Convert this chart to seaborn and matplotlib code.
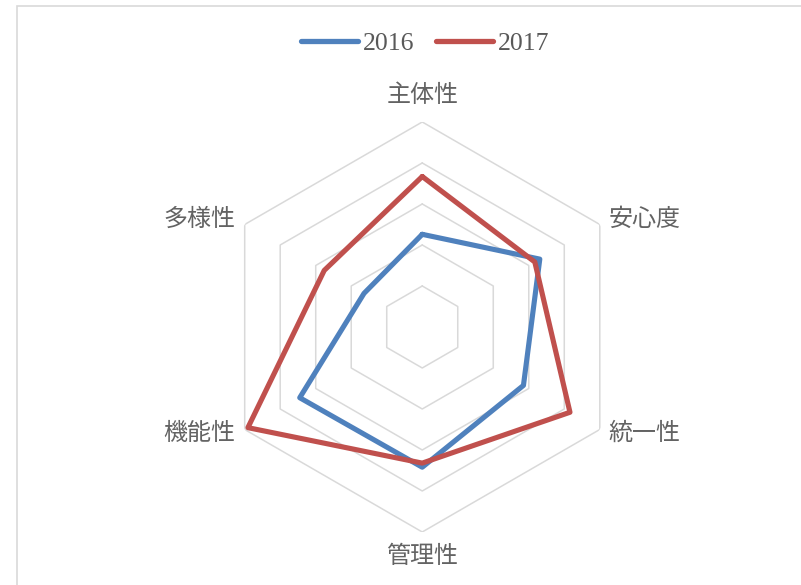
import numpy as np
import pandas as pd
import matplotlib
matplotlib.use("Agg")
from matplotlib import pyplot as plt
from matplotlib.lines import Line2D
from matplotlib.patches import Rectangle
import seaborn as sns

# data
categories = ['主体性', '安心度', '統一性', '管理性', '機能性', '多様性']
years = ['2016', '2017']
values2016 = [2.26, 3.31, 2.85, 3.42, 3.45, 1.64]
values2017 = [3.67, 3.17, 4.16, 3.32, 4.91, 2.76]
ring_levels = [1, 2, 3, 4, 5]
colors = ['#4F81BD', '#C0504D']

sns.set_style("white")
plt.rcParams['font.family'] = ['Noto Sans CJK JP', 'DejaVu Sans']

n = len(categories)
angles = list(np.linspace(0, 2 * np.pi, n, endpoint=False))

# long table, each polygon closed by repeating its first point at 2*pi
rows = []
for year, vals in zip(years, [values2016, values2017]):
    for a, v in zip(angles + [2 * np.pi], vals + [vals[0]]):
        rows.append({'theta': a, 'value': v, 'year': year})
df = pd.DataFrame(rows)

fig = plt.figure(figsize=(8.01, 5.85), dpi=100)
ax = fig.add_axes([0.2712, 0.0906, 0.5119, 0.7009], projection='polar')
ax.set_theta_offset(np.pi / 2)
ax.set_theta_direction(-1)

# hexagonal grid rings
for lev in ring_levels:
    ax.plot(angles + [angles[0]], [lev] * (n + 1), color='#D9D9D9', lw=1.1, zorder=0)

sns.lineplot(data=df, x='theta', y='value', hue='year', palette=colors,
             sort=False, estimator=None, linewidth=3.7, legend=False, ax=ax)

ax.set_ylim(0, ring_levels[-1])
ax.grid(False)
ax.set_xticks([])
ax.set_yticks([])
ax.spines['polar'].set_visible(False)
ax.set_facecolor('none')
ax.set_xlabel('')
ax.set_ylabel('')

# category labels just outside the outer ring
offsets = [((0, 19.4), 'center'), ((6, 4.3), 'left'), ((6, -2.2), 'left'),
           ((0, -17.3), 'center'), ((-6.5, -2.2), 'right'), ((-6.5, 4.3), 'right')]
for a, cat, (off, ha) in zip(angles, categories, offsets):
    ax.annotate(cat, xy=(a, ring_levels[-1]), xytext=off, textcoords='offset points',
                ha=ha, va='center', fontsize=17.3, color='#636363',
                annotation_clip=False)

handles = [Line2D([], [], color=c, lw=3.8, solid_capstyle='round') for c in colors]
fig.legend(handles, years, loc='center', bbox_to_anchor=(425.5 / 801, 1 - 44 / 585),
           ncol=2, frameon=False, borderpad=0,
           prop={'family': 'Liberation Serif', 'size': 18.5}, labelcolor='#595959',
           handlelength=2.2, handletextpad=0.2, columnspacing=0.85)

# chart frame (only top and left edges are inside the picture)
fig.add_artist(Rectangle((17 / 801, -0.05), 1.0, 1.05 - 6 / 585, transform=fig.transFigure,
                         fill=False, edgecolor='#D9D9D9', lw=1.2))

plt.savefig('out.png', dpi=100)
